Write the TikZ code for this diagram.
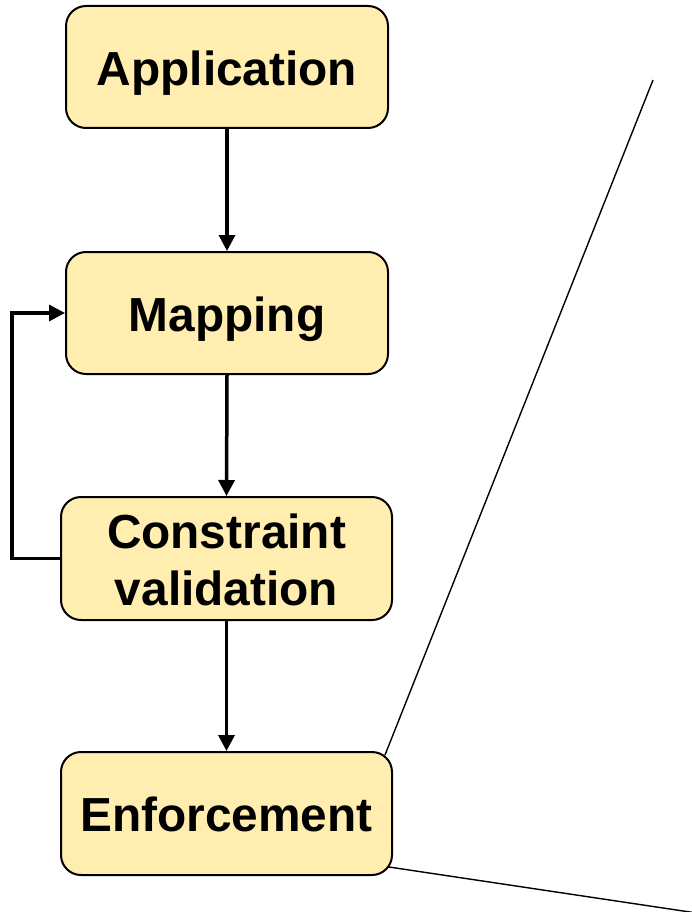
\documentclass[tikz,border=0pt]{standalone}
\usepackage{fontspec}
\setmainfont{Liberation Sans}
\usetikzlibrary{arrows.meta}
\definecolor{boxfill}{RGB}{255,238,176}
\begin{document}
\begin{tikzpicture}[x=1pt,y=-1pt,
  blk/.style={draw=black,line width=2pt,fill=boxfill,rounded corners=20pt,inner sep=0pt,
    font=\fontsize{47.8}{56.7}\selectfont\bfseries,align=center,text height=36.5pt,text depth=0pt},
  arr/.style={line width=3.5pt,-{Triangle[length=16pt,width=16pt]}},
  thin/.style={line width=1.4pt}]
\useasboundingbox (0,0) rectangle (692,912);
\node[blk,minimum width=322pt,minimum height=122pt] (app) at (227,67) {Application};
\node[blk,minimum width=322pt,minimum height=122pt] (map) at (227,313) {Mapping};
\node[blk,minimum width=331pt,minimum height=123pt,text height=93pt,text depth=0pt] (cv) at (226.5,558.5) {Constraint\\validation};
\node[blk,minimum width=331pt,minimum height=123pt] (enf) at (226.5,813.5) {Enforcement};
\coordinate (p1) at (653,80);
\coordinate (p2) at (710,915);
\draw[arr] (app.south) -- (map.north);
\draw[arr] (map.south) -- (cv.north);
\draw[arr] (cv.south) -- (enf.north);
\draw[arr] (cv.west) -- (12,558.5) |- (map.west);
\begin{scope}
\clip (0,0) rectangle (692,912);
\draw[thin] (385,755) -- (p1);
\draw[thin] (389,867) -- (p2);
\end{scope}
\end{tikzpicture}
\end{document}
